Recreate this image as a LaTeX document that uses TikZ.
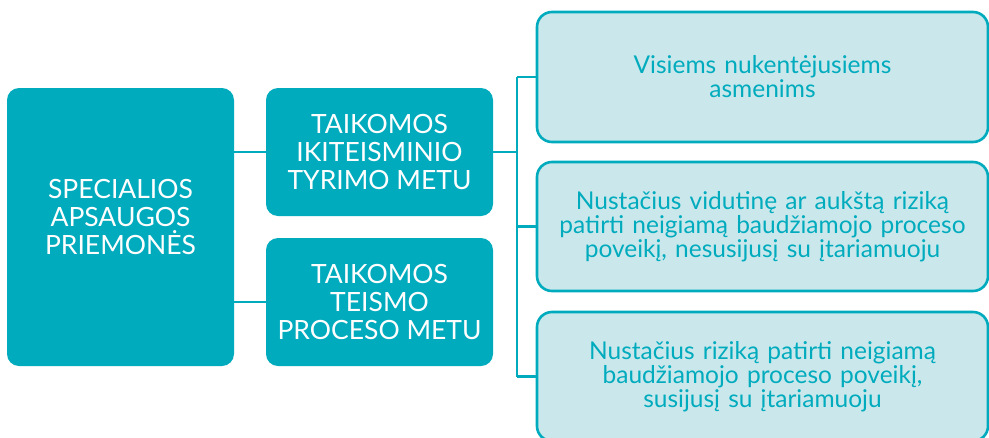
\documentclass[tikz,border=0pt]{standalone}
\usepackage{fontspec}
\setmainfont{Lato}
\definecolor{teal1}{HTML}{00ABBD}
\definecolor{light1}{HTML}{CAE8EC}
\begin{document}
\begin{tikzpicture}[x=1pt,y=-1pt,
  darkbox/.style={rectangle,rounded corners=12pt,fill=teal1,draw=none,inner sep=0pt},
  lightbox/.style={rectangle,rounded corners=15pt,fill=light1,draw=teal1,line width=2.6pt,inner sep=0pt,
     minimum width=451pt,minimum height=129pt,text width=445pt,align=center,text=teal1,
     font=\fontsize{24.5}{24}\selectfont},
  darktext/.style={text=white,align=center,inner sep=0pt,font=\fontsize{26.5}{28}\selectfont},
  conn/.style={draw=teal1,line width=2.4pt}]
\useasboundingbox (0,0) rectangle (989,437);
\node[darkbox,minimum width=227pt,minimum height=278pt] (main) at (120.5,227) {};
\node[darktext] (maint) at (120.5,217) {SPECIALIOS\\APSAUGOS\\PRIEMONĖS};
\node[darkbox,minimum width=227pt,minimum height=128pt,darktext] (mid1) at (379.5,152) {TAIKOMOS\\IKITEISMINIO\\TYRIMO METU};
\node[darkbox,minimum width=227pt,minimum height=128pt,darktext] (mid2) at (379.5,302) {TAIKOMOS\\TEISMO\\PROCESO METU};
\node[lightbox,minimum height=130pt] (r1) at (762.5,77) {Visiems nukentėjusiems\\asmenims};
\node[lightbox] (r2) at (762.5,226.5) {Nustačius vidutinę ar aukštą riziką\\patirti neigiamą baudžiamojo proceso\\poveikį, nesusijusį su įtariamuoju};
\node[lightbox] (r3) at (762.5,376.5) {Nustačius riziką patirti neigiamą\\baudžiamojo proceso poveikį,\\susijusį su įtariamuoju};
\coordinate (spine) at (517,152);
\draw[conn] (main.east |- mid1.west) -- (mid1.west);
\draw[conn] (main.east |- mid2.west) -- (mid2.west);
\draw[conn] (mid1.east) -- (spine);
\draw[conn] (spine |- r1.west) -- (spine |- r3.west);
\draw[conn] (spine |- r1.west) -- (r1.west);
\draw[conn] (spine |- r2.west) -- (r2.west);
\draw[conn] (spine |- r3.west) -- (r3.west);
\end{tikzpicture}
\end{document}
